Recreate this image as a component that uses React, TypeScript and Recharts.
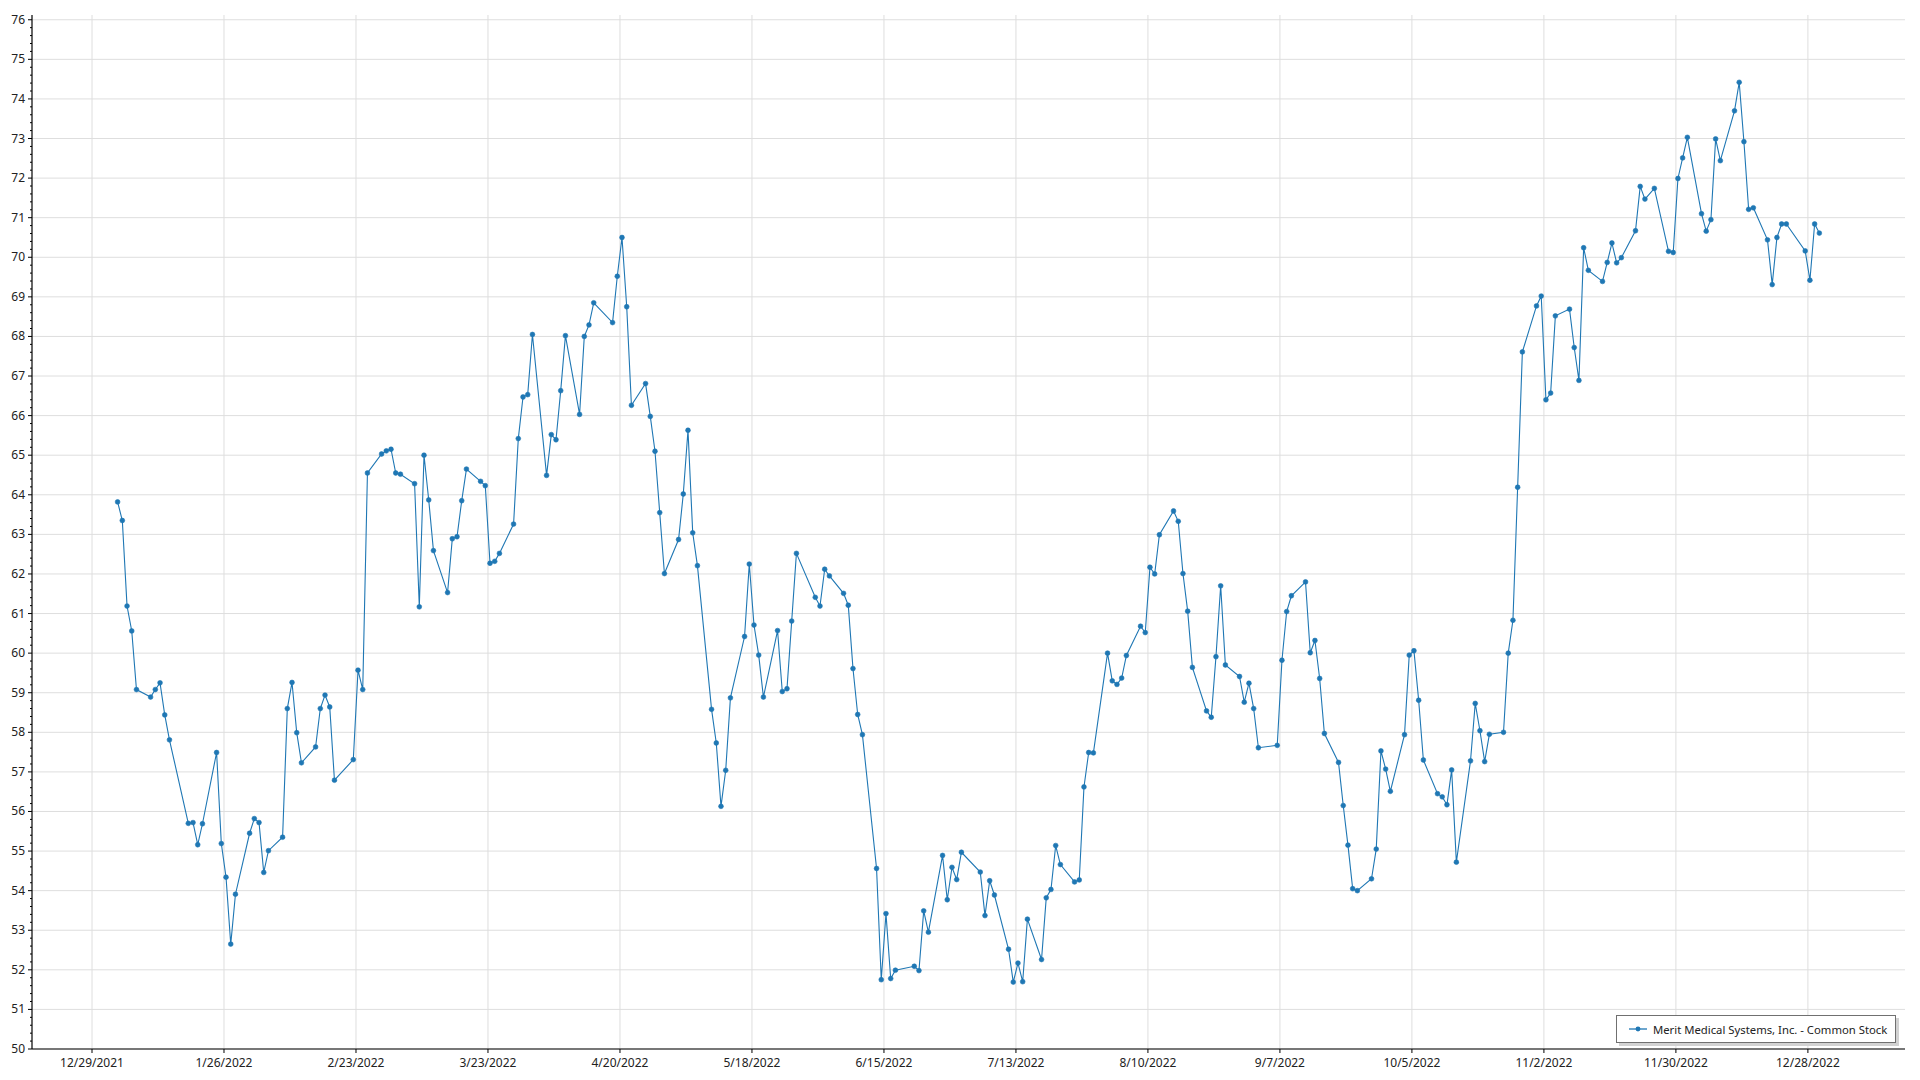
import React from 'react';
import { LineChart, Line, XAxis, YAxis, CartesianGrid, Legend } from 'recharts';

const SERIES_NAME = 'Merit Medical Systems, Inc. - Common Stock';

const X_TICK_LABELS = [
  '12/29/2021', '1/26/2022', '2/23/2022', '3/23/2022', '4/20/2022', '5/18/2022', '6/15/2022',
  '7/13/2022', '8/10/2022', '9/7/2022', '10/5/2022', '11/2/2022', '11/30/2022', '12/28/2022',
];

const Y_TICKS = [50, 51, 52, 53, 54, 55, 56, 57, 58, 59, 60, 61, 62, 63, 64, 65, 66, 67, 68, 69, 70, 71, 72, 73, 74, 75, 76];

const YEAR = 2022;

// trading days per month (Jan..Dec 2022)
const TRADING_DAYS: number[][] = [
  [3, 4, 5, 6, 7, 10, 11, 12, 13, 14, 18, 19, 20, 21, 24, 25, 26, 27, 28, 31],
  [1, 2, 3, 4, 7, 8, 9, 10, 11, 14, 15, 16, 17, 18, 22, 23, 24, 25, 28],
  [1, 2, 3, 4, 7, 8, 9, 10, 11, 14, 15, 16, 17, 18, 21, 22, 23, 24, 25, 28, 29, 30, 31],
  [1, 4, 5, 6, 7, 8, 11, 12, 13, 14, 18, 19, 20, 21, 22, 25, 26, 27, 28, 29],
  [2, 3, 4, 5, 6, 9, 10, 11, 12, 13, 16, 17, 18, 19, 20, 23, 24, 25, 26, 27, 31],
  [1, 2, 3, 6, 7, 8, 9, 10, 13, 14, 15, 16, 17, 21, 22, 23, 24, 27, 28, 29, 30],
  [1, 5, 6, 7, 8, 11, 12, 13, 14, 15, 18, 19, 20, 21, 22, 25, 26, 27, 28, 29],
  [1, 2, 3, 4, 5, 8, 9, 10, 11, 12, 15, 16, 17, 18, 19, 22, 23, 24, 25, 26, 29, 30, 31],
  [1, 2, 6, 7, 8, 9, 12, 13, 14, 15, 16, 19, 20, 21, 22, 23, 26, 27, 28, 29, 30],
  [3, 4, 5, 6, 7, 10, 11, 12, 13, 14, 17, 18, 19, 20, 21, 24, 25, 26, 27, 28, 31],
  [1, 2, 3, 4, 7, 8, 9, 10, 11, 14, 15, 16, 17, 18, 21, 22, 23, 25, 28, 29, 30],
  [1, 2, 5, 6, 7, 8, 9, 12, 13, 14, 15, 16, 19, 20, 21, 22, 23, 27, 28, 29, 30],
];

// closing prices per month, matching TRADING_DAYS
const CLOSES: number[][] = [
  [63.82, 63.35, 61.19, 60.56, 59.08, 58.89, 59.08, 59.25, 58.44, 57.81, 55.70, 55.72, 55.16, 55.69, 57.49, 55.19, 54.34, 52.65, 53.91, 55.45],
  [55.82, 55.72, 54.46, 55.01, 55.35, 58.60, 59.26, 57.99, 57.23, 57.63, 58.60, 58.94, 58.64, 56.79, 57.31, 59.57, 59.08, 64.55, 65.03],
  [65.11, 65.15, 64.55, 64.52, 64.28, 61.17, 65.00, 63.87, 62.59, 61.53, 62.89, 62.94, 63.85, 64.65, 64.34, 64.23, 62.27, 62.32, 62.52, 63.26, 65.42, 66.47, 66.53],
  [68.05, 64.49, 65.52, 65.39, 66.63, 68.02, 66.03, 68.00, 68.29, 68.85, 68.35, 69.52, 70.50, 68.75, 66.26, 66.81, 65.98, 65.10, 63.55, 62.01],
  [62.87, 64.02, 65.63, 63.04, 62.21, 58.58, 57.73, 56.13, 57.04, 58.87, 60.42, 62.25, 60.71, 59.95, 58.89, 60.57, 59.03, 59.10, 60.81, 62.52, 61.41],
  [61.19, 62.12, 61.95, 61.51, 61.21, 59.61, 58.45, 57.94, 54.56, 51.75, 53.42, 51.78, 51.99, 52.09, 51.98, 53.49, 52.95, 54.89, 53.77, 54.59, 54.28],
  [54.97, 54.47, 53.37, 54.25, 53.89, 52.52, 51.69, 52.17, 51.70, 53.28, 52.26, 53.82, 54.03, 55.14, 54.66, 54.22, 54.27, 56.62, 57.49, 57.48],
  [60.00, 59.30, 59.21, 59.37, 59.94, 60.68, 60.52, 62.17, 62.00, 62.99, 63.59, 63.33, 62.01, 61.06, 59.64, 58.54, 58.38, 59.91, 61.70, 59.70, 59.41, 58.76, 59.24],
  [58.60, 57.61, 57.67, 59.82, 61.05, 61.45, 61.80, 60.01, 60.32, 59.36, 57.97, 57.24, 56.15, 55.15, 54.05, 54.00, 54.30, 55.05, 57.53, 57.07, 56.51],
  [57.94, 59.95, 60.06, 58.81, 57.30, 56.45, 56.37, 56.17, 57.05, 54.72, 57.28, 58.73, 58.04, 57.26, 57.95, 58.00, 60.00, 60.83, 64.19, 67.61, 68.77],
  [69.02, 66.40, 66.57, 68.52, 68.69, 67.72, 66.89, 70.24, 69.67, 69.39, 69.87, 70.36, 69.86, 69.99, 70.67, 71.79, 71.47, 71.74, 70.15, 70.12, 71.99],
  [72.51, 73.03, 71.10, 70.66, 70.95, 72.99, 72.44, 73.70, 74.42, 72.92, 71.21, 71.25, 70.44, 69.31, 70.50, 70.84, 70.84, 70.16, 69.42, 70.84, 70.61],
];

const DAY_MS = 86400000;
const BASE_UTC = Date.UTC(2021, 11, 29);
const SAMPLE_TIME_OFFSET_DAYS = 0.43; // intraday timestamp of each sample
const X_DOMAIN: [number, number] = [-12.73, 384.6];
const Y_DOMAIN: [number, number] = [50, 76.12];

const dayNumber = (y: number, m: number, d: number) => (Date.UTC(y, m - 1, d) - BASE_UTC) / DAY_MS;

const parseLabel = (s: string) => {
  const [m, d, y] = s.split('/').map(Number);
  return dayNumber(y, m, d);
};

const X_TICKS = X_TICK_LABELS.map(parseLabel);
const X_LABEL_BY_DAY: Record<number, string> = {};
X_TICKS.forEach((t, i) => { X_LABEL_BY_DAY[t] = X_TICK_LABELS[i]; });

const Y_ALL_TICKS: number[] = [];
for (let i = 0; i < Y_TICKS.length; i++) {
  Y_ALL_TICKS.push(Y_TICKS[i]);
  if (i < Y_TICKS.length - 1) {
    for (let k = 1; k < 5; k++) Y_ALL_TICKS.push(Math.round((Y_TICKS[i] + k * 0.2) * 10) / 10);
  }
}

const data: { x: number; price: number }[] = [];
TRADING_DAYS.forEach((days, mi) => {
  days.forEach((d, di) => {
    data.push({ x: dayNumber(YEAR, mi + 1, d) + SAMPLE_TIME_OFFSET_DAYS, price: CLOSES[mi][di] });
  });
});

const FONT = '"Noto Sans", "Open Sans", sans-serif';
const TEXT_COLOR = '#222';
const LINE_COLOR = '#1f77b4';

const XTick = (props: any) => {
  const { x, y, payload } = props;
  return (
    <text x={x} y={y + 12} textAnchor="middle" fontFamily={FONT} fontSize={12} fill={TEXT_COLOR}>
      {X_LABEL_BY_DAY[payload.value] ?? ''}
    </text>
  );
};

const YTick = (props: any) => {
  const { x, y, payload } = props;
  const v = payload.value as number;
  const major = Math.abs(v - Math.round(v)) < 1e-6;
  return (
    <g>
      <line x1={x - (major ? 4 : 2)} y1={y} x2={x} y2={y} stroke="#000" strokeWidth={1} />
      {major && (
        <text x={x - 7} y={y + 4} textAnchor="end" fontFamily={FONT} fontSize={12} fill={TEXT_COLOR}>
          {v}
        </text>
      )}
    </g>
  );
};

const LegendContent = () => (
  <div
    style={{
      display: 'flex',
      alignItems: 'center',
      boxSizing: 'border-box',
      height: 28,
      width: 280,
      border: '1.5px solid #707070',
      background: '#fff',
      boxShadow: '3px 3px 0 #d2d2d2',
      paddingLeft: 12,
      fontFamily: FONT,
      fontSize: 11.3,
      color: TEXT_COLOR,
      whiteSpace: 'nowrap',
    }}
  >
    <svg width={18} height={8} style={{ display: 'block' }}>
      <line x1={0} y1={4} x2={18} y2={4} stroke={LINE_COLOR} strokeOpacity={0.65} strokeWidth={2} />
      <circle cx={9} cy={4} r={2.4} fill={LINE_COLOR} />
    </svg>
    <span style={{ marginLeft: 6 }}>{SERIES_NAME}</span>
  </div>
);

export default function App() {
  return (
    <div style={{ position: 'absolute', left: 0, top: 0, width: 1920, height: 1080, background: '#fff' }}>
      <LineChart width={1920} height={1080} data={data} margin={{ top: 15, right: 15, left: 0, bottom: 0 }}>
        <CartesianGrid
          stroke="#dedede"
          strokeWidth={1}
          horizontalValues={Y_TICKS}
          verticalValues={X_TICKS}
        />
        <XAxis
          dataKey="x"
          type="number"
          domain={X_DOMAIN}
          allowDataOverflow
          ticks={X_TICKS}
          interval={0}
          height={31}
          tick={<XTick />}
          tickSize={4}
          tickMargin={2}
          tickLine={{ stroke: '#000' }}
          axisLine={{ stroke: '#000', strokeWidth: 1.2 }}
        />
        <XAxis
          xAxisId="top"
          orientation="top"
          type="number"
          domain={X_DOMAIN}
          allowDataOverflow
          height={0}
          tick={false}
          tickLine={false}
          axisLine={{ stroke: '#000', strokeWidth: 1.2 }}
        />
        <YAxis
          type="number"
          domain={Y_DOMAIN}
          allowDataOverflow
          ticks={Y_ALL_TICKS}
          interval={0}
          width={32}
          tickSize={0}
          tickMargin={0}
          tickLine={false}
          tick={<YTick />}
          axisLine={{ stroke: '#000', strokeWidth: 1.2 }}
        />
        <YAxis
          yAxisId="right"
          orientation="right"
          type="number"
          domain={Y_DOMAIN}
          allowDataOverflow
          width={0}
          tick={false}
          tickLine={false}
          axisLine={{ stroke: '#000', strokeWidth: 1.2 }}
        />
        <Legend
          layout="vertical"
          verticalAlign="middle"
          align="center"
          content={<LegendContent />}
          wrapperStyle={{ left: 1616, top: 1015, width: 283, height: 31 }}
        />
        <Line
          type="linear"
          dataKey="price"
          name={SERIES_NAME}
          stroke={LINE_COLOR}
          strokeWidth={1.1}
          dot={{ r: 2.4, fill: LINE_COLOR, stroke: LINE_COLOR, strokeWidth: 0.6 }}
          activeDot={false}
          isAnimationActive={false}
        />
      </LineChart>
    </div>
  );
}
